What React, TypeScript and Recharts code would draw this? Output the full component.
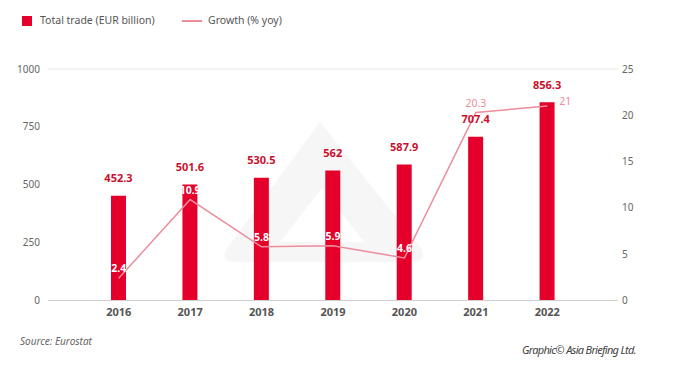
import { ComposedChart, Bar, Line, XAxis, YAxis, CartesianGrid, LabelList } from 'recharts';

const years = ['2016', '2017', '2018', '2019', '2020', '2021', '2022'];
const totalTrade = [452.3, 501.6, 530.5, 562, 587.9, 707.4, 856.3];
const growth = [2.4, 10.9, 5.8, 5.9, 4.6, 20.3, 21];
const leftTicks = [0, 250, 500, 750, 1000];
const rightTicks = [0, 5, 10, 15, 20, 25];

const data = years.map((y, i) => ({ year: y, total: totalTrade[i], growth: growth[i] }));

const RED = '#e4002b';
const PINK = '#ec8d9c';
const FONT = '"Noto Sans", "Open Sans", sans-serif';

const BarLabel = (props: any) => {
  const { x, y, width, value } = props;
  return (
    <text x={x + width / 2} y={y - 18} textAnchor="middle" dominantBaseline="central"
      fill="#c8102e" fontSize={11} fontWeight={700} fontFamily={FONT}>
      {value}
    </text>
  );
};

const GrowthLabel = (props: any) => {
  const { x, y, value, index } = props;
  const last = index === growth.length - 1;
  // white when the label sits over its bar
  const inside = !last && growth[index] / 25 < totalTrade[index] / 1000;
  return (
    <text x={last ? x + 18 : x} y={last ? y - 5 : y - 10} textAnchor="middle" dominantBaseline="central"
      fill={inside ? '#fff' : PINK} fontSize={10.5} fontWeight={inside ? 700 : 400} fontFamily={FONT}>
      {value}
    </text>
  );
};

export default function App() {
  return (
    <div style={{ position: 'absolute', left: 0, top: 0, width: 700, height: 387, background: '#fff', fontFamily: FONT, color: '#555' }}>
      <svg width={700} height={387} style={{ position: 'absolute', left: 0, top: 0 }}>
        <path d="M320,122 L421,248 Q428,262 410,262 L236,262 Q218,262 228,247 Z M322,188 L364,242 L280,242 Z"
          fill="#f6f6f6" fillRule="evenodd" />
      </svg>

      <div style={{ position: 'absolute', left: 22, top: 16, width: 10, height: 10, background: RED }} />
      <div style={{ position: 'absolute', left: 40, top: 13, fontSize: 10.5, lineHeight: '14px' }}>Total trade (EUR billion)</div>
      <div style={{ position: 'absolute', left: 182, top: 20, width: 20, height: 1.5, background: PINK }} />
      <div style={{ position: 'absolute', left: 208, top: 13, fontSize: 10.5, lineHeight: '14px' }}>Growth (% yoy)</div>

      <div style={{ position: 'absolute', left: 0, top: 0 }}>
        <ComposedChart width={700} height={330} data={data} margin={{ top: 69, right: 0, bottom: 0, left: 0 }}>
          <CartesianGrid vertical={false} stroke="#e8e8e8" />
          <XAxis dataKey="year" padding={{ left: 35, right: 35 }} axisLine={{ stroke: '#cfcfcf' }} tickLine={false}
            tick={{ fill: '#555', fontSize: 11, fontWeight: 700, fontFamily: FONT }} height={29.5} />
          <YAxis yAxisId="left" domain={[0, 1000]} ticks={leftTicks} width={48} axisLine={false} tickLine={false}
            tick={{ fill: '#666', fontSize: 10, fontFamily: FONT }} />
          <YAxis yAxisId="right" orientation="right" domain={[0, 25]} ticks={rightTicks} width={82} axisLine={false}
            tickLine={false} tickSize={2} tickMargin={2} tick={{ fill: '#666', fontSize: 10, fontFamily: FONT }} />
          <Bar yAxisId="left" dataKey="total" fill={RED} barSize={15} isAnimationActive={false}>
            <LabelList dataKey="total" content={BarLabel} />
          </Bar>
          <Line yAxisId="right" dataKey="growth" type="linear" stroke={PINK} strokeWidth={1.5} dot={false}
            isAnimationActive={false}>
            <LabelList dataKey="growth" content={GrowthLabel} />
          </Line>
        </ComposedChart>
      </div>

      <div style={{ position: 'absolute', left: 20, top: 334, fontSize: 10, fontStyle: 'italic', color: '#666' }}>Source: Eurostat</div>
      <div style={{ position: 'absolute', left: 522, top: 342, fontSize: 11, fontStyle: 'italic', color: '#444', letterSpacing: -0.7,
        fontFamily: '"Liberation Sans Narrow", "Noto Sans", sans-serif' }}>Graphic© Asia Briefing Ltd.</div>
    </div>
  );
}
